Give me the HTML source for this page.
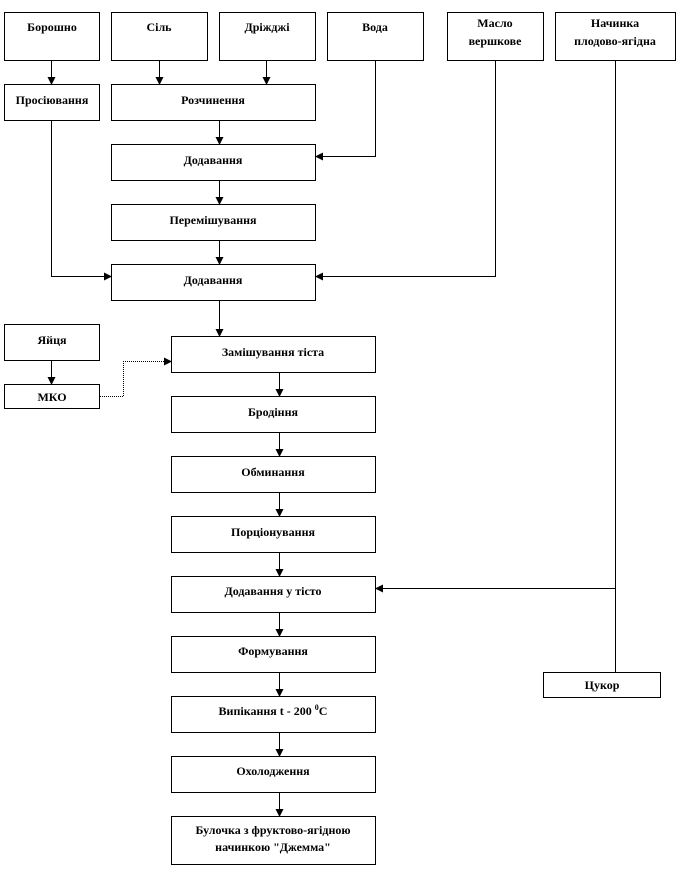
<!DOCTYPE html>
<html><head><meta charset="utf-8"><style>
html,body{margin:0;padding:0;background:#fff;}
svg{display:block;}
text{font-family:"Liberation Serif",serif;font-weight:bold;font-size:12px;fill:#000;text-anchor:middle;}
</style></head><body>
<svg width="699" height="888" viewBox="0 0 699 888" xmlns="http://www.w3.org/2000/svg">
<defs><marker id="a" markerWidth="8" markerHeight="8" refX="7" refY="4" orient="auto" markerUnits="userSpaceOnUse"><path d="M0,0 L8,4 L0,8 Z" fill="#000"/></marker></defs>
<g fill="#fff" stroke="#000" stroke-width="1">
<rect x="4.5" y="12.5" width="95" height="48"/>
<rect x="111.5" y="12.5" width="96" height="48"/>
<rect x="219.5" y="12.5" width="96" height="48"/>
<rect x="327.5" y="12.5" width="96" height="48"/>
<rect x="447.5" y="12.5" width="96" height="48"/>
<rect x="555.5" y="12.5" width="120" height="48"/>
<rect x="4.5" y="84.5" width="95" height="36"/>
<rect x="111.5" y="84.5" width="204" height="36"/>
<rect x="111.5" y="144.5" width="204" height="36"/>
<rect x="111.5" y="204.5" width="204" height="36"/>
<rect x="111.5" y="264.5" width="204" height="36"/>
<rect x="4.5" y="324.5" width="95" height="36"/>
<rect x="4.5" y="384.5" width="95" height="24"/>
<rect x="171.5" y="336.5" width="204" height="36"/>
<rect x="171.5" y="396.5" width="204" height="36"/>
<rect x="171.5" y="456.5" width="204" height="36"/>
<rect x="171.5" y="516.5" width="204" height="36"/>
<rect x="171.5" y="576.5" width="204" height="36"/>
<rect x="171.5" y="636.5" width="204" height="36"/>
<rect x="171.5" y="696.5" width="204" height="36"/>
<rect x="171.5" y="756.5" width="204" height="36"/>
<rect x="171.5" y="816.5" width="204" height="48"/>
<rect x="543.5" y="672.5" width="117" height="25"/>
</g>
<g fill="none" stroke="#000" stroke-width="1">
<path d="M51.5,61 V84" marker-end="url(#a)"/>
<path d="M159.5,61 V84" marker-end="url(#a)"/>
<path d="M266.5,61 V84" marker-end="url(#a)"/>
<path d="M219.5,121 V144" marker-end="url(#a)"/>
<path d="M219.5,181 V204" marker-end="url(#a)"/>
<path d="M219.5,241 V264" marker-end="url(#a)"/>
<path d="M375.5,61 V156.5 H316" marker-end="url(#a)"/>
<path d="M495.5,61 V276.5 H316" marker-end="url(#a)"/>
<path d="M51.5,121 V276.5 H111" marker-end="url(#a)"/>
<path d="M219.5,301 V336" marker-end="url(#a)"/>
<path d="M51.5,361 V384" marker-end="url(#a)"/>
<path d="M100,396.5 H123.5 V361.5 H171" stroke-dasharray="1,1" marker-end="url(#a)"/>
<path d="M279.5,373 V396" marker-end="url(#a)"/>
<path d="M279.5,433 V456" marker-end="url(#a)"/>
<path d="M279.5,493 V516" marker-end="url(#a)"/>
<path d="M279.5,553 V576" marker-end="url(#a)"/>
<path d="M279.5,613 V636" marker-end="url(#a)"/>
<path d="M279.5,673 V696" marker-end="url(#a)"/>
<path d="M279.5,733 V756" marker-end="url(#a)"/>
<path d="M279.5,793 V816" marker-end="url(#a)"/>
<path d="M615.5,61 V672"/>
<path d="M615.5,588.5 H376" marker-end="url(#a)"/>
</g>
<text x="52" y="31">Борошно</text>
<text x="159" y="31">Сіль</text>
<text x="267" y="31">Дріжджі</text>
<text x="375" y="31">Вода</text>
<text x="495" y="27">Масло</text>
<text x="495" y="45">вершкове</text>
<text x="615" y="27">Начинка</text>
<text x="615" y="45">плодово-ягідна</text>
<text x="52" y="104">Просіювання</text>
<text x="213" y="104">Розчинення</text>
<text x="213" y="164">Додавання</text>
<text x="213" y="224">Перемішування</text>
<text x="213" y="284">Додавання</text>
<text x="52" y="344">Яйця</text>
<text x="52" y="401">МКО</text>
<text x="273" y="356">Замішування тіста</text>
<text x="273" y="416">Бродіння</text>
<text x="273" y="476">Обминання</text>
<text x="273" y="536">Порціонування</text>
<text x="273" y="595">Додавання у тісто</text>
<text x="273" y="655">Формування</text>
<text x="273" y="715">Випікання  t - 200 <tspan dy="-5" font-size="8">0</tspan><tspan dy="5">C</tspan></text>
<text x="273" y="775">Охолодження</text>
<text x="273" y="834">Булочка з фруктово-ягідною</text>
<text x="273" y="851">начинкою "Джемма"</text>
<text x="602" y="689">Цукор</text>
</svg>
</body></html>
